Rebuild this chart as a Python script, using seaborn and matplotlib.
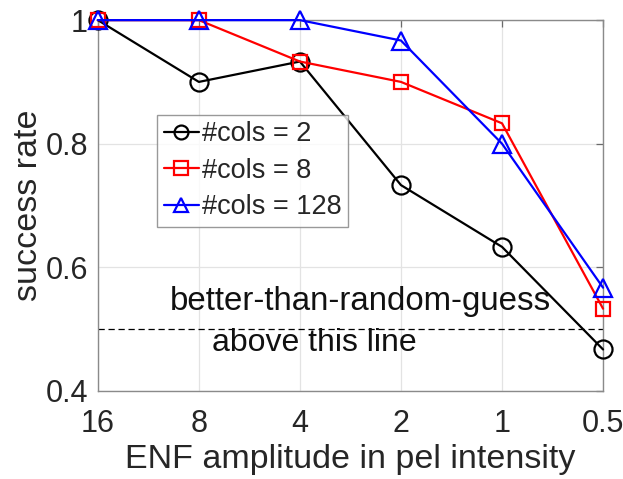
import numpy as np
import pandas as pd
import matplotlib
matplotlib.use("Agg")
import matplotlib.pyplot as plt
import seaborn as sns

amplitudes = ["16", "8", "4", "2", "1", "0.5"]
cols2 = [1.0, 0.9, 0.933, 0.733, 0.633, 0.467]
cols8 = [1.0, 1.0, 0.933, 0.9, 0.833, 0.533]
cols128 = [1.0, 1.0, 1.0, 0.967, 0.8, 0.567]
series_names = ["#cols = 2", "#cols = 8", "#cols = 128"]
yticks = [0.4, 0.6, 0.8, 1.0]
ytick_labels = ["0.4", "0.6", "0.8", "1"]

sns.set_style("white")
plt.rcParams["font.family"] = ["Liberation Sans", "DejaVu Sans"]

pos = np.arange(len(amplitudes))
df = pd.concat([
    pd.DataFrame({"x": pos, "y": vals, "series": name})
    for name, vals in zip(series_names, [cols2, cols8, cols128])
])

fig = plt.figure(figsize=(6.23, 4.79), dpi=100)
ax = fig.add_axes([0.157, 0.184, 0.811, 0.774])

palette = {"#cols = 2": "black", "#cols = 8": "#ff0000", "#cols = 128": "#0000ff"}
markers = {"#cols = 2": "o", "#cols = 8": "s", "#cols = 128": "^"}
sizes_ms = {"#cols = 2": 13, "#cols = 8": 10, "#cols = 128": 13}

for name in series_names:
    sub = df[df["series"] == name]
    sns.lineplot(data=sub, x="x", y="y", ax=ax, color=palette[name],
                 marker=markers[name], markersize=sizes_ms[name],
                 markerfacecolor="none", markeredgecolor=palette[name],
                 markeredgewidth=1.6, linewidth=1.6, label=name,
                 clip_on=False, zorder=3)

ax.axhline(0.5, color="black", linestyle=(0, (5, 3)), linewidth=0.9, zorder=2)
ax.text(0.71, 0.545, "better-than-random-guess", fontsize=23.8, va="center", ha="left", color="#111111")
ax.text(1.13, 0.478, "above this line", fontsize=23, va="center", ha="left", color="#111111")

ax.set_xlim(0, len(amplitudes) - 1)
ax.set_ylim(0.4, 1.0)
ax.set_xticks(pos)
ax.set_xticklabels(amplitudes)
ax.set_yticks(yticks)
ax.set_yticklabels(ytick_labels)
ax.grid(True, color="#e3e3e3", linewidth=0.9)
ax.set_axisbelow(True)
for s in ax.spines.values():
    s.set_color("#8a8a8a")
    s.set_linewidth(1.0)
ax.tick_params(axis="both", direction="in", length=5, width=0.9, color="#6a6a6a",
               labelsize=22, labelcolor="#262626", top=True, right=True)
ax.tick_params(axis="x", pad=13)
ax.tick_params(axis="y", pad=7)
ax.set_xlabel("ENF amplitude in pel intensity", fontsize=24.5, color="#262626", labelpad=4)
ax.set_ylabel("success rate", fontsize=24.5, color="#262626", labelpad=1)

leg = ax.legend(loc="upper left", bbox_to_anchor=(0.117, 0.745), borderaxespad=0,
                fontsize=19.5, frameon=True, fancybox=False, edgecolor="#808080",
                handlelength=1.3, handletextpad=0.1, borderpad=0.25, labelspacing=0.38)
leg.get_frame().set_linewidth(1.0)
for h in leg.get_lines():
    h.set_markersize(10)

fig.savefig("out.png", dpi=100)
